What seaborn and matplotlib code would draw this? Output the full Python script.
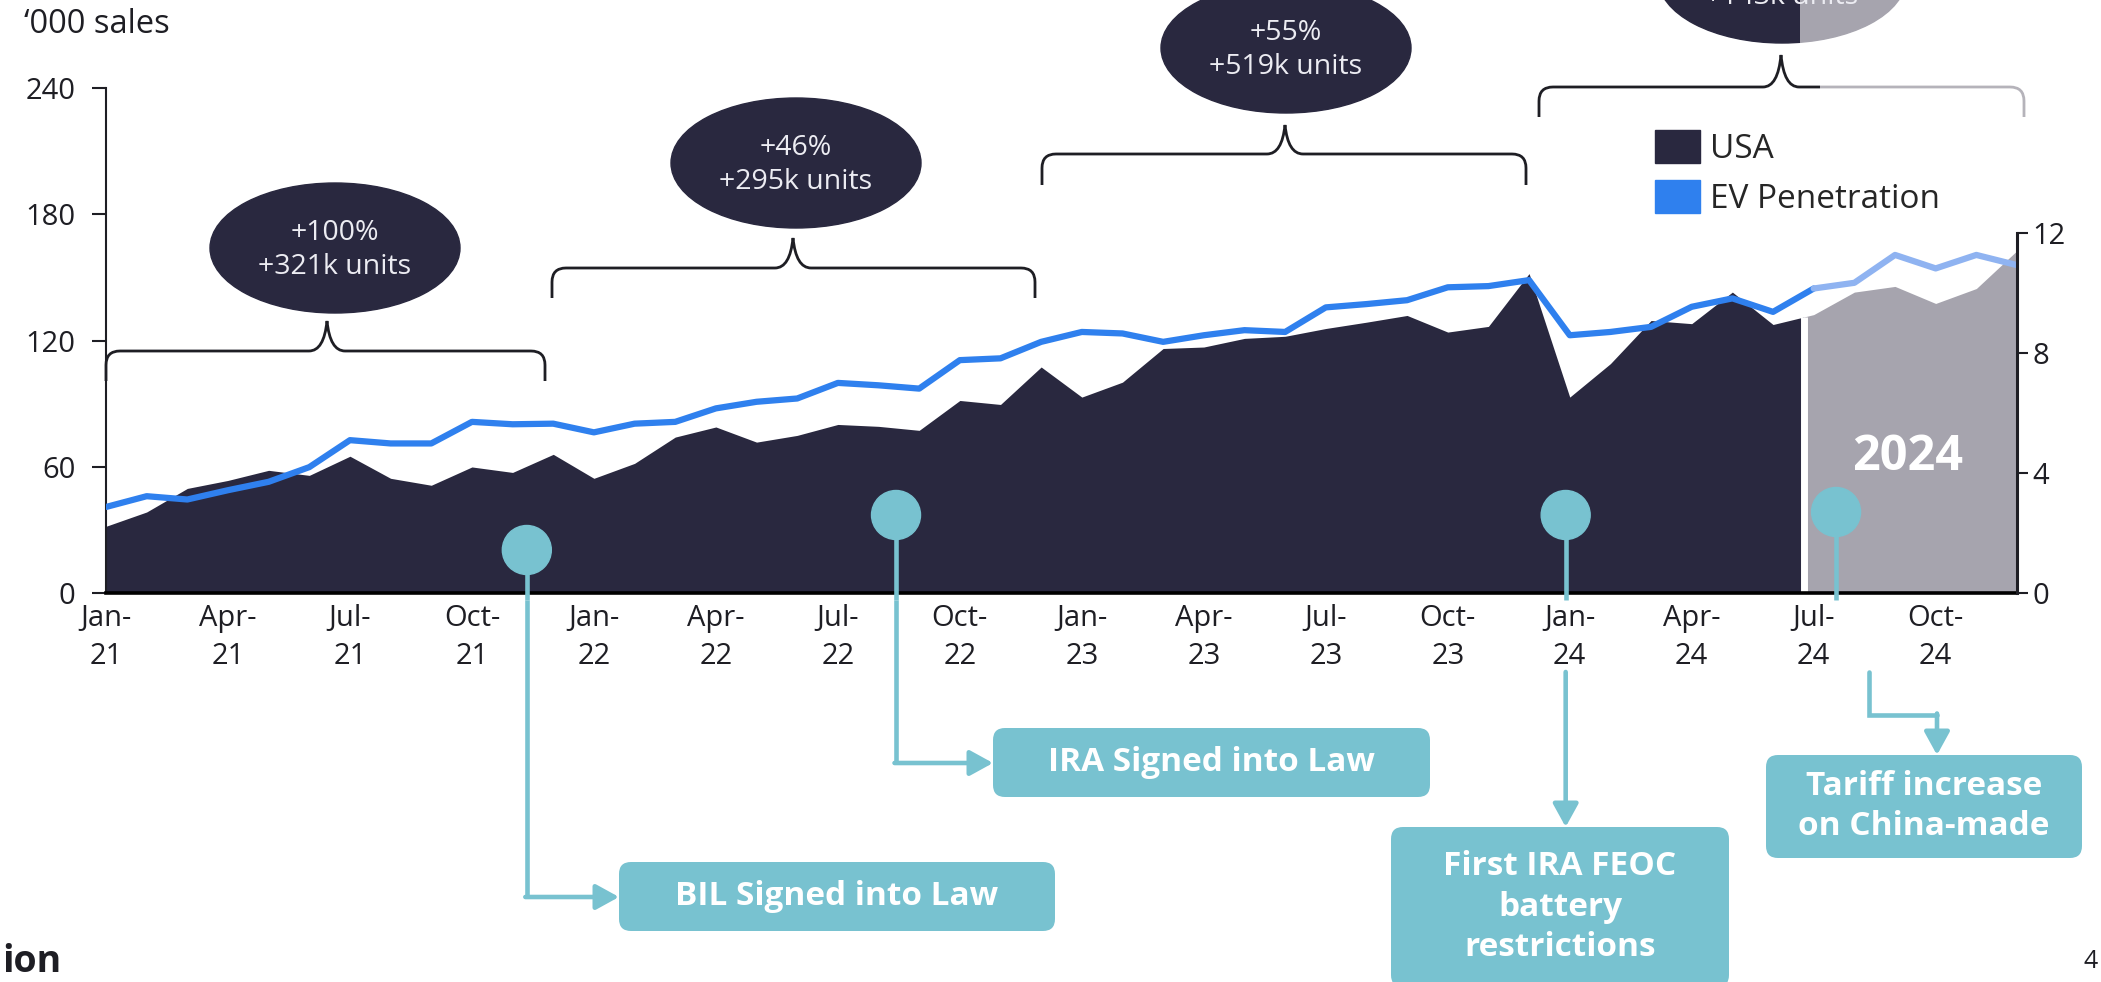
import numpy as np
import pandas as pd
import matplotlib
matplotlib.use('Agg')
import matplotlib.pyplot as plt
import seaborn as sns
from matplotlib.patches import Ellipse, Circle, FancyBboxPatch, Patch, PathPatch, Rectangle
from matplotlib.path import Path

##################################################################
# data (monthly, Jan-21 .. Dec-24)
months = np.arange(48)
sales = [31.7, 38.5, 49.7, 53.5, 58.3, 55.9, 65.0, 54.5, 51.2, 59.9, 57.3, 65.9,
         54.5, 61.6, 74.1, 78.9, 71.7, 74.9, 80.1, 79.2, 77.3, 91.5, 89.6, 107.4,
         93.1, 100.2, 116.2, 116.9, 121.0, 122.0, 125.7, 128.7, 131.9, 124.0, 126.7, 151.8,
         93.1, 109.0, 129.5, 128.0, 143.0, 127.6, 132.3, 143.0, 145.7, 137.6, 144.7, 162.7]
ev_share = [2.87, 3.23, 3.12, 3.43, 3.71, 4.20, 5.10, 4.99, 4.99, 5.71, 5.63, 5.65,
            5.36, 5.65, 5.71, 6.16, 6.38, 6.49, 7.01, 6.93, 6.82, 7.77, 7.83, 8.38,
            8.71, 8.66, 8.38, 8.60, 8.77, 8.71, 9.53, 9.64, 9.77, 10.20, 10.24, 10.44,
            8.60, 8.71, 8.88, 9.55, 9.83, 9.38, 10.16, 10.35, 11.28, 10.83, 11.28, 10.94]
tick_labels = ['Jan-\n21', 'Apr-\n21', 'Jul-\n21', 'Oct-\n21',
               'Jan-\n22', 'Apr-\n22', 'Jul-\n22', 'Oct-\n22',
               'Jan-\n23', 'Apr-\n23', 'Jul-\n23', 'Oct-\n23',
               'Jan-\n24', 'Apr-\n24', 'Jul-\n24', 'Oct-\n24']
left_ticks = [0, 60, 120, 180, 240]
right_ticks = [0, 4, 8, 12]

growth_labels = ['+100%\n+321k units', '+46%\n+295k units', '+55%\n+519k units', '+143k units']
event_months = [10.35, 19.43, 35.9, 42.55]
event_labels = ['BIL Signed into Law', 'IRA Signed into Law',
                'First IRA FEOC\nbattery\nrestrictions', 'Tariff increase\non China-made']
##################################################################
navy = '#29283f'
gray = '#a6a4ae'
light_gray = '#b5b3ba'
blue = '#2f80ee'
light_blue = '#8fb3f1'
teal = '#78c2d0'
ink = '#1e1e24'

sns.set_style('white')
plt.rcParams['font.family'] = ['Open Sans', 'DejaVu Sans']

W, H = 2101, 982
fig = plt.figure(figsize=(W / 100, H / 100), dpi=100)
ax = fig.add_axes([106 / W, 1 - 593 / H, (2017 - 106) / W, (593 - 88) / H])
ax2 = ax.twinx()

############# sales area
split = 41.75
split_val = np.interp(split, months, sales)
s = np.array(sales)
m = months < split
ax.fill_between(np.r_[months[m], split], np.r_[s[m], split_val], color=navy, lw=0)
ax.fill_between(np.r_[split, months[~m]], np.r_[split_val, s[~m]], color=gray, lw=0)
ax.vlines(split, 0, split_val, color='white', lw=5)

############# EV penetration line
df = pd.DataFrame({'month': months, 'ev': ev_share})
sns.lineplot(data=df.iloc[:43], x='month', y='ev', ax=ax2, color=blue, lw=4.5)
sns.lineplot(data=df.iloc[42:], x='month', y='ev', ax=ax2, color=light_blue, lw=4.5)

############# axes
fz = 21
ax.set_xlim(0, 47)
ax.set_ylim(0, 240)
ax.set_yticks(left_ticks)
ax.set_xticks(range(0, 48, 3))
ax.set_xticklabels(tick_labels, linespacing=1.4)
ax.tick_params(axis='x', length=0, pad=8, labelsize=fz, colors=ink)
ax.tick_params(axis='y', left=True, length=10, width=1.5, pad=12, labelsize=fz, colors=ink)
ax.spines['top'].set_visible(False)
ax.spines['right'].set_visible(False)
ax.spines['left'].set_bounds(0, 240)
ax.spines['left'].set_linewidth(1.5)
ax.spines['left'].set_color(ink)
ax.spines['bottom'].set_linewidth(2.6)
ax.spines['bottom'].set_color('black')
ax.set_xlabel('')
ax.set_ylabel('')

ax2.set_ylim(0, 16.85)
ax2.set_yticks(right_ticks)
ax2.tick_params(axis='y', right=True, length=8, width=1.5, pad=3, labelsize=fz, colors=ink)
for sp in ['top', 'left', 'bottom']:
    ax2.spines[sp].set_visible(False)
ax2.spines['right'].set_bounds(0, 12)
ax2.spines['right'].set_linewidth(2.2)
ax2.spines['right'].set_color(ink)
ax2.set_xlabel('')
ax2.set_ylabel('')

############# overlay in pixel coordinates for the annotations
ov = fig.add_axes([0, 0, 1, 1], zorder=10)
ov.set_xlim(0, W)
ov.set_ylim(H, 0)
ov.axis('off')


def brace(x0, x1, xc, yh, yend, ytip, color, clip=None, r=14):
    verts = [(x0, yend), (x0, yh + r), (x0, yh), (x0 + r, yh),
             (xc - 18, yh), (xc - 3, yh), (xc, ytip),
             (xc + 3, yh), (xc + 18, yh),
             (x1 - r, yh), (x1, yh), (x1, yh + r), (x1, yend)]
    codes = [Path.MOVETO, Path.LINETO, Path.CURVE3, Path.CURVE3,
             Path.LINETO, Path.CURVE3, Path.CURVE3,
             Path.CURVE3, Path.CURVE3,
             Path.LINETO, Path.CURVE3, Path.CURVE3, Path.LINETO]
    p = PathPatch(Path(verts, codes), fill=False, ec=color, lw=2.0)
    ov.add_patch(p)
    if clip is not None:
        p.set_clip_path(Rectangle(clip[0], clip[1], H, transform=ov.transData))


brace(106, 545, 327, 351, 381, 321, ink)
brace(552, 1035, 793, 268, 298, 238, ink)
brace(1042, 1526, 1285, 154, 185, 125, ink)
brace(1539, 2024, 1781, 87, 117, 55, ink, clip=((0, 0), 1820))
brace(1539, 2024, 1781, 87, 117, 55, light_gray, clip=((1820, 0), 400))

ells = [(335, 248), (796, 163), (1286, 48)]
for (cx, cy), lab in zip(ells, growth_labels[:3]):
    ov.add_patch(Ellipse((cx, cy), 250, 130, color=navy))
    ov.text(cx, cy + 2, lab, color='#ececf2', fontsize=20.5, ha='center', va='center',
            linespacing=1.25)
e1 = Ellipse((1782, -22), 248, 130, color=navy)
e2 = Ellipse((1782, -22), 248, 130, color=gray)
ov.add_patch(e1)
ov.add_patch(e2)
e1.set_clip_path(Rectangle((0, -200), 1800, 400, transform=ov.transData))
e2.set_clip_path(Rectangle((1800, -200), 400, 400, transform=ov.transData))
ov.text(1782, -3, growth_labels[3], color='#ececf2', fontsize=20.5, ha='center', va='center')

############# events: pins, connectors, boxes
lw_c = 3.3
arrow = dict(arrowstyle='-|>,head_length=1.0,head_width=0.55', color=teal, lw=lw_c,
             shrinkA=0, shrinkB=0, mutation_scale=14)
pin_y = [550, 515, 515, 512]
px = [ax.transData.transform((mth, 0))[0] for mth in event_months]

for x, y in zip(px, pin_y):
    ov.plot([x, x], [y, 600], color=teal, lw=lw_c, solid_capstyle='butt')
    ov.add_patch(Circle((x, y), 24.5, color=teal))

# BIL
ov.plot([px[0], px[0]], [600, 897], color=teal, lw=lw_c, solid_capstyle='butt')
ov.annotate('', xy=(619, 897), xytext=(px[0] - 1.5, 897), arrowprops=arrow)
# IRA
ov.plot([px[1], px[1]], [600, 763], color=teal, lw=lw_c, solid_capstyle='butt')
ov.annotate('', xy=(993, 763), xytext=(px[1] - 1.5, 763), arrowprops=arrow)
# FEOC
ov.annotate('', xy=(px[2], 827), xytext=(px[2], 672), arrowprops=arrow)
# Tariff
ov.plot([1869, 1869, 1937], [672, 715, 715], color=teal, lw=lw_c, solid_joinstyle='miter')
ov.annotate('', xy=(1937, 755), xytext=(1937, 713.5), arrowprops=arrow)

boxes = [(619, 862, 436, 69), (993, 728, 437, 69), (1391, 827, 338, 160), (1766, 755, 316, 103)]
for (bx, by, bw, bh), lab in zip(boxes, event_labels):
    ov.add_patch(FancyBboxPatch((bx, by), bw, bh, boxstyle='round,pad=0,rounding_size=12',
                                fc=teal, ec='none'))
    ty = by + bh / 2 if bh < 150 else by + 80
    ov.text(bx + bw / 2, ty, lab, color='white', fontsize=24, fontweight='bold',
            ha='center', va='center', linespacing=1.3)

############# legend and other text
handles = [Patch(color=navy, label='USA'), Patch(color=blue, label='EV Penetration')]
ov.legend(handles=handles, loc='upper left', bbox_to_anchor=(1655, 130), bbox_transform=ov.transData,
          frameon=False, fontsize=24, handlelength=1.35, handleheight=1.15, handletextpad=0.3,
          labelspacing=0.42, borderpad=0, borderaxespad=0)

ov.text(1908, 458, '2024', color='white', fontsize=35, fontweight='bold', ha='center', va='center')
ov.text(24, 24, '\u2018000 sales', color=ink, fontsize=23.5, ha='left', va='center')
ov.text(2, 962, 'ion', color=ink, fontsize=27, fontweight='bold', ha='left', va='center')
ov.text(2084, 962, '4', color=ink, fontsize=18, ha='left', va='center')

plt.savefig('out.png', dpi=100)
